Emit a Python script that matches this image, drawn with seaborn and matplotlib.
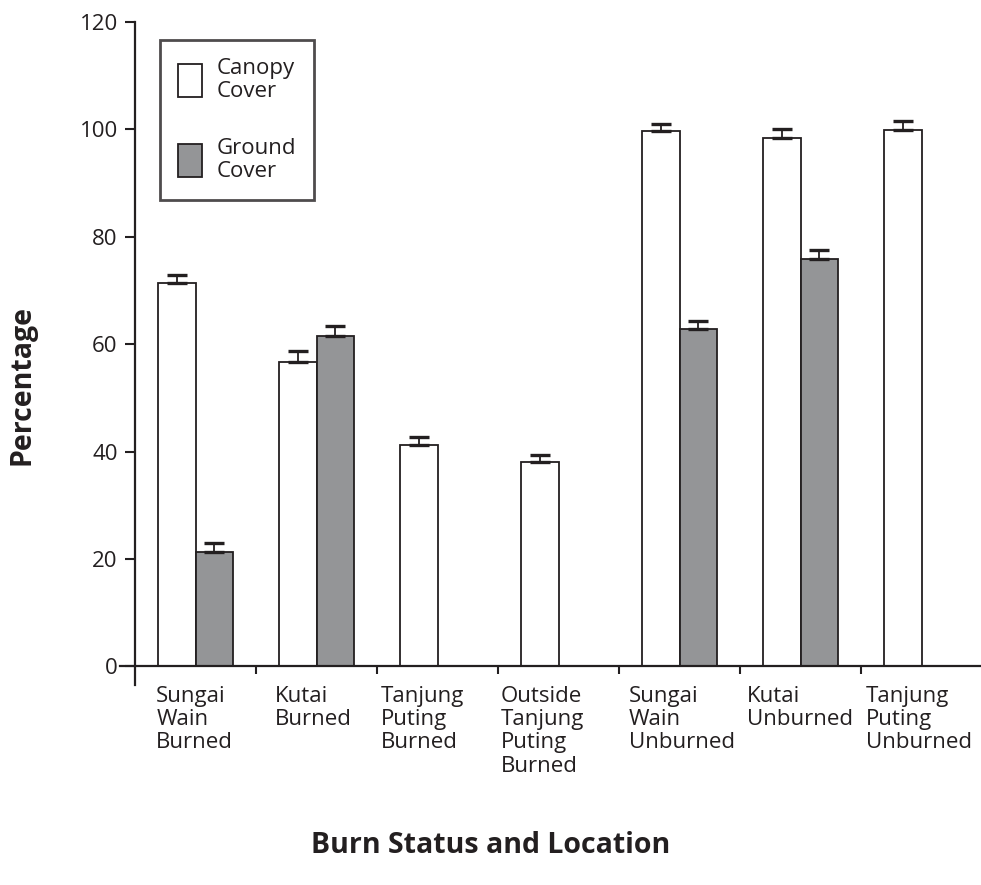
import pandas as pd
import seaborn as sns
import matplotlib.pyplot as plt
from matplotlib.ticker import FixedLocator

# dados
locations = ['Sungai\nWain\nBurned', 'Kutai\nBurned', 'Tanjung\nPuting\nBurned',
             'Outside\nTanjung\nPuting\nBurned', 'Sungai\nWain\nUnburned',
             'Kutai\nUnburned', 'Tanjung\nPuting\nUnburned']
series = ['Canopy Cover', 'Ground Cover']
canopy = [71.4, 56.7, 41.3, 38.1, 99.7, 98.4, 99.9]
canopy_err = [1.4, 2.0, 1.4, 1.2, 1.4, 1.7, 1.7]
ground = [21.3, 61.6, 0, 0, 62.9, 75.9, 0]
ground_err = [1.7, 1.7, 0, 0, 1.4, 1.7, 0]

df = pd.DataFrame({
    'location': locations * 2,
    'cover': [series[0]] * len(locations) + [series[1]] * len(locations),
    'value': canopy + ground,
})

sns.set_style('white')
plt.rcParams['font.family'] = ['Open Sans', 'DejaVu Sans']
ink = '#231f20'

fig = plt.figure(figsize=(9.81, 8.85), dpi=100)
ax = fig.add_axes([0.1223, 0.226, 0.8777, 0.749])

sns.barplot(data=df, x='location', y='value', hue='cover', order=locations,
            hue_order=series, palette=['white', '#939598'], edgecolor=ink,
            linewidth=1.3, width=0.615, errorbar=None, ax=ax)

# barras de erro (so para cima)
for cont, errs in zip(ax.containers, [canopy_err, ground_err]):
    for bar, e in zip(cont, errs):
        if e > 0:
            xc = bar.get_x() + bar.get_width() / 2
            ax.errorbar(xc, bar.get_height(), yerr=[[0], [e]], fmt='none',
                        ecolor=ink, elinewidth=1.3, capsize=7.5, capthick=2.4)

ax.set_ylim(-3.5, 120)
ax.set_xlim(-0.625, 6.49)
ax.set_yticks(range(0, 121, 20))
ax.tick_params(axis='y', direction='out', length=7.5, width=1.5, color=ink,
               labelsize=16, labelcolor=ink, pad=5, left=True)

sns.despine(ax=ax)
ax.spines['left'].set_position(('data', -0.5))
ax.spines['bottom'].set_position(('data', 0))
for s in ['left', 'bottom']:
    ax.spines[s].set_linewidth(1.6)
    ax.spines[s].set_color(ink)

# rotulos do eixo x alinhados a esquerda
label_x = [-0.325, 0.659, 1.529, 2.521, 3.579, 4.554, 5.537]
ax.set_xticks(label_x)
ax.set_xticklabels(locations, ha='left', fontsize=16, color=ink, linespacing=1.15)
ax.tick_params(axis='x', which='major', length=0, pad=14, bottom=True)
ax.xaxis.set_minor_locator(FixedLocator([0.5, 1.5, 2.5, 3.5, 4.5, 5.5]))
ax.tick_params(axis='x', which='minor', direction='out', length=5.5, width=1.5,
               color=ink, bottom=True)

ax.set_xlabel('')
ax.set_ylabel('')
fig.text(0.5, 0.045, 'Burn Status and Location', ha='center', va='center',
         fontsize=20.5, fontweight='bold', color=ink)
fig.text(0.022, 0.565, 'Percentage', ha='center', va='center', rotation=90,
         fontsize=20.5, fontweight='bold', color=ink)

handles, labels = ax.get_legend_handles_labels()
leg = ax.legend(handles, [l.replace(' ', '\n') for l in labels], loc='upper left',
                bbox_to_anchor=(0.0465, 0.973), borderaxespad=0, fontsize=16,
                frameon=True, fancybox=False, edgecolor=ink, handlelength=1.1,
                handleheight=1.9, handletextpad=0.65, labelspacing=1.6,
                borderpad=0.8)
leg.get_frame().set_linewidth(2)
for t in leg.get_texts():
    t.set_color(ink)
    t.set_linespacing(1.15)

plt.savefig('out.png', dpi=100)
